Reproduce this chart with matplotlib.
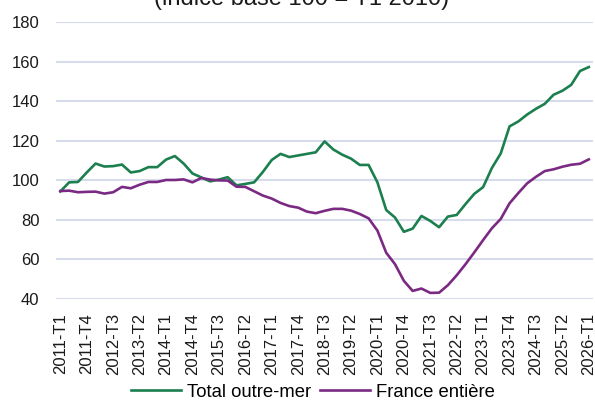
import matplotlib
matplotlib.use("Agg")
import matplotlib.pyplot as plt
import numpy as np

plt.rcParams['font.family'] = ['Liberation Sans', 'DejaVu Sans']

years = range(2011, 2027)
quarters = [f"{y}-T{q}" for y in years for q in range(1, 5)][:61]

total_outre_mer = [94.4, 99.0, 99.2, 104.0, 108.5, 107.0, 107.2, 108.0, 104.0, 104.7,
                   106.7, 106.7, 110.5, 112.3, 108.5, 103.5, 101.5, 99.5, 100.4, 101.6,
                   97.5, 98.2, 99.0, 104.3, 110.3, 113.4, 111.8, 112.6, 113.4, 114.2,
                   119.7, 115.6, 113.0, 111.0, 107.8, 107.8, 99.0, 85.0, 81.2, 74.0,
                   75.6, 82.0, 79.5, 76.3, 81.7, 82.5, 88.0, 93.2, 96.6, 106.3,
                   113.6, 127.3, 129.8, 133.3, 136.2, 138.7, 143.3, 145.3, 148.3, 155.3,
                   157.3]
france_entiere = [94.6, 94.8, 94.0, 94.2, 94.3, 93.3, 94.0, 96.7, 96.0, 97.8,
                  99.2, 99.2, 100.2, 100.2, 100.5, 99.0, 101.2, 100.4, 100.0, 99.9,
                  96.8, 96.7, 94.5, 92.3, 90.8, 88.6, 87.0, 86.2, 84.2, 83.4,
                  84.6, 85.6, 85.6, 84.7, 83.0, 80.8, 74.6, 63.4, 57.6, 49.2,
                  44.1, 45.3, 43.1, 43.2, 47.0, 52.0, 57.6, 63.6, 69.8, 75.8,
                  80.5, 88.4, 93.6, 98.5, 101.8, 104.7, 105.6, 106.9, 107.9, 108.4,
                  110.6]

y_ticks = [40, 60, 80, 100, 120, 140, 160, 180]
title = "(indice base 100 = T1 2010)"
series_labels = ["Total outre-mer", "France entière"]
colors = ["#1B7F4E", "#7B2A83"]

fig = plt.figure(figsize=(5.95, 4.03), dpi=100)
ax = fig.add_axes([0.094, 0.258, 0.903, 0.687])

x = np.arange(len(quarters))
ax.plot(x, total_outre_mer, color=colors[0], lw=1.9, label=series_labels[0], solid_joinstyle='round')
ax.plot(x, france_entiere, color=colors[1], lw=1.9, label=series_labels[1], solid_joinstyle='round')

ax.set_xlim(-0.5, len(quarters) - 0.5)
ax.set_ylim(40, 180)
ax.set_yticks(y_ticks)
ax.set_xticks(x[::3])
ax.set_xticklabels(quarters[::3], rotation=90)
ax.tick_params(axis='both', length=0, labelsize=12, colors='#1a1a1a')
ax.tick_params(axis='x', pad=10)
ax.tick_params(axis='y', pad=12)
ax.grid(axis='y', color='#D6DCEC', lw=1.5)
ax.set_axisbelow(True)
for s in ax.spines.values():
    s.set_visible(False)

fig.text(0.506, 1 - 5.5 / 403, title, ha='center', va='baseline', fontsize=17, color='#1a1a1a')

fig.legend(loc='center', bbox_to_anchor=(0.526, 0.027), ncol=2, frameon=False,
           fontsize=13.3, handlelength=2.7, handletextpad=0.35, columnspacing=0.45,
           borderpad=0.1)

fig.savefig("out.png", dpi=100)
